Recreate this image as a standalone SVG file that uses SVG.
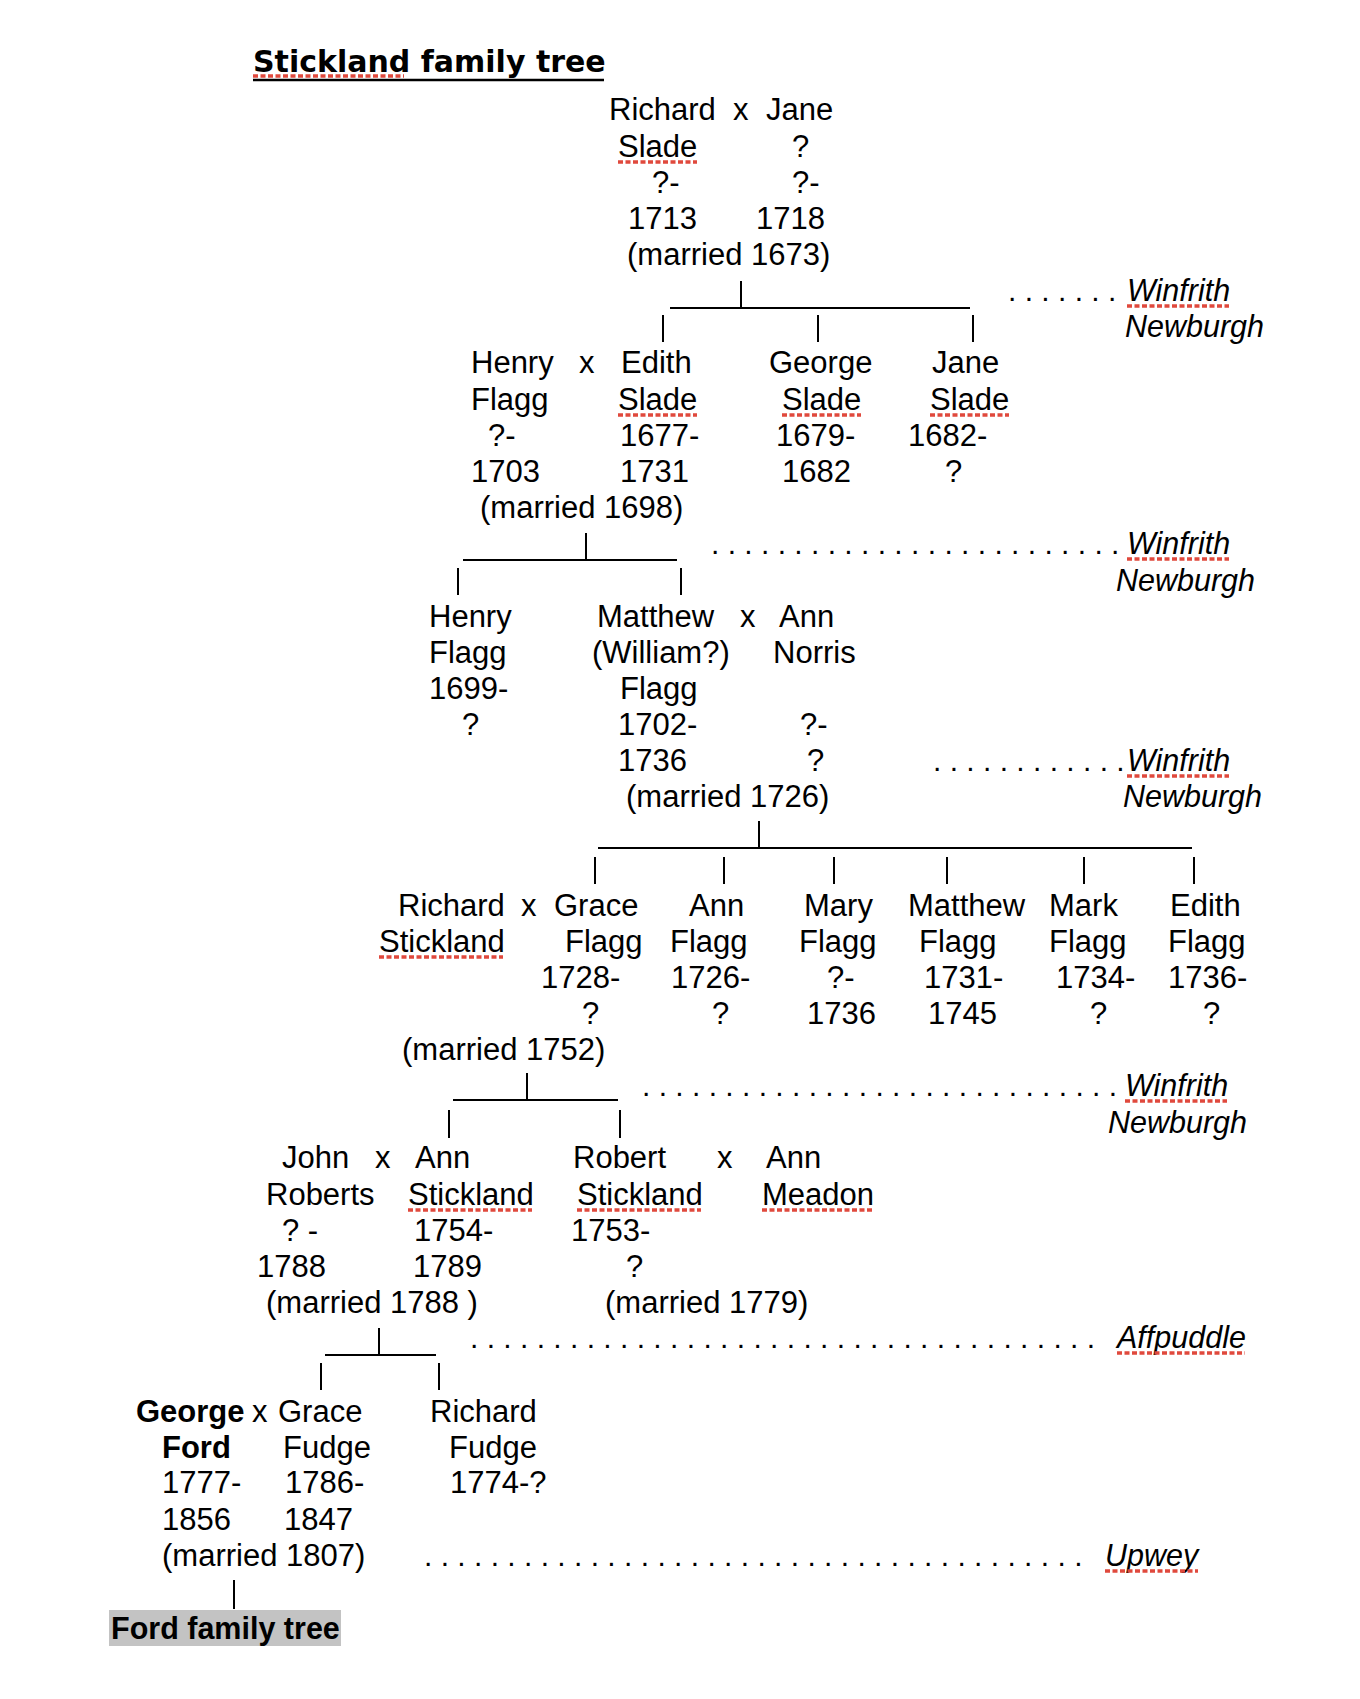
<svg xmlns="http://www.w3.org/2000/svg" width="1360" height="1699" viewBox="0 0 1360 1699">
<style>
text { font-family: "Liberation Sans", Arial, sans-serif; font-size: 31px; fill: #000; }
.b { font-weight: bold; }
.i { font-style: italic; font-size: 30.5px; }
.d { font-size: 30px; }
.f { font-size: 30.5px; }
.ttl { font-family: "DejaVu Sans", Verdana, sans-serif; font-weight: bold; font-size: 30px; }
.c { stroke: #000; stroke-width: 2; fill: none; }
.sp { stroke: #e0493d; stroke-width: 3.5; stroke-dasharray: 5 2.5; fill: none; }
.ul { stroke: #000; stroke-width: 2.5; }
</style>
<rect width="1360" height="1699" fill="#fff"/>

<g id="title">
  <text class="ttl" x="253" y="72">Stickland family tree</text>
  <line class="ul" x1="253" y1="80" x2="604" y2="80"/>
  <line class="sp" x1="253" y1="76" x2="404" y2="76"/>
</g>

<!-- Generation 1 -->
<g id="richard-slade">
  <text x="609" y="120">Richard</text>
  <text x="618" y="157">Slade</text>
  <line class="sp" x1="618" y1="162" x2="697" y2="162"/>
  <text x="652" y="193">?-</text>
  <text x="628" y="229">1713</text>
</g>
<g id="jane-unknown">
  <text x="766" y="120">Jane</text>
  <text x="792" y="157">?</text>
  <text x="792" y="193">?-</text>
  <text x="756" y="229">1718</text>
</g>
<g id="marriage-1673">
  <text x="733" y="120">x</text>
  <text x="627" y="265">(married 1673)</text>
</g>

<!-- Generation 2 -->
<g id="henry-flagg-sr">
  <text x="471" y="373">Henry</text>
  <text x="471" y="410">Flagg</text>
  <text x="488" y="446">?-</text>
  <text x="471" y="482">1703</text>
</g>
<g id="edith-slade">
  <text x="621" y="373">Edith</text>
  <text x="618" y="410">Slade</text>
  <line class="sp" x1="618" y1="415" x2="697" y2="415"/>
  <text x="620" y="446">1677-</text>
  <text x="620" y="482">1731</text>
</g>
<g id="marriage-1698">
  <text x="579" y="373">x</text>
  <text x="480" y="518">(married 1698)</text>
</g>
<g id="george-slade">
  <text x="769" y="373">George</text>
  <text x="782" y="410">Slade</text>
  <line class="sp" x1="782" y1="415" x2="861" y2="415"/>
  <text x="776" y="446">1679-</text>
  <text x="782" y="482">1682</text>
</g>
<g id="jane-slade">
  <text x="932" y="373">Jane</text>
  <text x="930" y="410">Slade</text>
  <line class="sp" x1="930" y1="415" x2="1009" y2="415"/>
  <text x="908" y="446">1682-</text>
  <text x="945" y="482">?</text>
</g>

<!-- Generation 3 -->
<g id="henry-flagg-jr">
  <text x="429" y="627">Henry</text>
  <text x="429" y="663">Flagg</text>
  <text x="429" y="699">1699-</text>
  <text x="462" y="735">?</text>
</g>
<g id="matthew-flagg">
  <text x="597" y="627">Matthew</text>
  <text x="592" y="663">(William?)</text>
  <text x="620" y="699">Flagg</text>
  <text x="618" y="735">1702-</text>
  <text x="618" y="771">1736</text>
</g>
<g id="ann-norris">
  <text x="779" y="627">Ann</text>
  <text x="773" y="663">Norris</text>
  <text x="800" y="735">?-</text>
  <text x="807" y="771">?</text>
</g>
<g id="marriage-1726">
  <text x="740" y="627">x</text>
  <text x="626" y="807">(married 1726)</text>
</g>

<!-- Generation 4 -->
<g id="richard-stickland">
  <text x="398" y="916">Richard</text>
  <text x="379" y="952">Stickland</text>
  <line class="sp" x1="379" y1="957" x2="503" y2="957"/>
</g>
<g id="grace-flagg">
  <text x="554" y="916">Grace</text>
  <text x="565" y="952">Flagg</text>
  <text x="541" y="988">1728-</text>
  <text x="582" y="1024">?</text>
</g>
<g id="marriage-1752">
  <text x="521" y="916">x</text>
  <text x="402" y="1060">(married 1752)</text>
</g>
<g id="ann-flagg">
  <text x="689" y="916">Ann</text>
  <text x="670" y="952">Flagg</text>
  <text x="671" y="988">1726-</text>
  <text x="712" y="1024">?</text>
</g>
<g id="mary-flagg">
  <text x="804" y="916">Mary</text>
  <text x="799" y="952">Flagg</text>
  <text x="827" y="988">?-</text>
  <text x="807" y="1024">1736</text>
</g>
<g id="matthew-flagg-jr">
  <text x="908" y="916">Matthew</text>
  <text x="919" y="952">Flagg</text>
  <text x="924" y="988">1731-</text>
  <text x="928" y="1024">1745</text>
</g>
<g id="mark-flagg">
  <text x="1049" y="916">Mark</text>
  <text x="1049" y="952">Flagg</text>
  <text x="1056" y="988">1734-</text>
  <text x="1090" y="1024">?</text>
</g>
<g id="edith-flagg">
  <text x="1170" y="916">Edith</text>
  <text x="1168" y="952">Flagg</text>
  <text x="1168" y="988">1736-</text>
  <text x="1203" y="1024">?</text>
</g>

<!-- Generation 5 -->
<g id="john-roberts">
  <text x="282" y="1168">John</text>
  <text x="266" y="1205">Roberts</text>
  <text x="282" y="1241">? -</text>
  <text x="257" y="1277">1788</text>
</g>
<g id="ann-stickland">
  <text x="415" y="1168">Ann</text>
  <text x="408" y="1205">Stickland</text>
  <line class="sp" x1="408" y1="1210" x2="532" y2="1210"/>
  <text x="414" y="1241">1754-</text>
  <text x="413" y="1277">1789</text>
</g>
<g id="marriage-1788">
  <text x="375" y="1168">x</text>
  <text x="266" y="1313">(married 1788 )</text>
</g>
<g id="robert-stickland">
  <text x="573" y="1168">Robert</text>
  <text x="577" y="1205">Stickland</text>
  <line class="sp" x1="577" y1="1210" x2="701" y2="1210"/>
  <text x="571" y="1241">1753-</text>
  <text x="626" y="1277">?</text>
</g>
<g id="ann-meadon">
  <text x="766" y="1168">Ann</text>
  <text x="762" y="1205">Meadon</text>
  <line class="sp" x1="762" y1="1210" x2="873" y2="1210"/>
</g>
<g id="marriage-1779">
  <text x="717" y="1168">x</text>
  <text x="605" y="1313">(married 1779)</text>
</g>

<!-- Generation 6 -->
<g id="george-ford">
  <text class="b" x="136" y="1422">George</text>
  <text class="b" x="162" y="1458">Ford</text>
  <text x="162" y="1493">1777-</text>
  <text x="162" y="1530">1856</text>
</g>
<g id="grace-fudge">
  <text x="278" y="1422">Grace</text>
  <text x="283" y="1458">Fudge</text>
  <text x="285" y="1493">1786-</text>
  <text x="284" y="1530">1847</text>
</g>
<g id="marriage-1807">
  <text x="252" y="1422">x</text>
  <text x="162" y="1566">(married 1807)</text>
</g>
<g id="richard-fudge">
  <text x="430" y="1422">Richard</text>
  <text x="449" y="1458">Fudge</text>
  <text x="450" y="1493">1774-?</text>
</g>
<g id="ford-family-tree">
  <rect x="109" y="1610" width="232" height="36" fill="#c3c3c3"/>
  <text class="b f" x="111" y="1639">Ford family tree</text>
</g>

<!-- Place labels -->
<g id="places">
  <text class="d" x="1008" y="301">. . . . . . .</text>
  <text class="i" x="1127" y="301">Winfrith</text>
  <line class="sp" x1="1127" y1="306" x2="1229" y2="306"/>
  <text class="i" x="1125" y="337">Newburgh</text>

  <text class="d" x="711" y="554">. . . . . . . . . . . . . . . . . . . . . . . . .</text>
  <text class="i" x="1127" y="554">Winfrith</text>
  <line class="sp" x1="1127" y1="559" x2="1229" y2="559"/>
  <text class="i" x="1116" y="591">Newburgh</text>

  <text class="d" x="933" y="771">. . . . . . . . . . . .</text>
  <text class="i" x="1127" y="771">Winfrith</text>
  <line class="sp" x1="1127" y1="776" x2="1229" y2="776"/>
  <text class="i" x="1123" y="807">Newburgh</text>

  <text class="d" x="642" y="1096">. . . . . . . . . . . . . . . . . . . . . . . . . . . . .</text>
  <text class="i" x="1125" y="1096">Winfrith</text>
  <line class="sp" x1="1125" y1="1101" x2="1227" y2="1101"/>
  <text class="i" x="1108" y="1133">Newburgh</text>

  <text class="d" x="470" y="1348">. . . . . . . . . . . . . . . . . . . . . . . . . . . . . . . . . . . . . .</text>
  <text class="i" x="1117" y="1348">Affpuddle</text>
  <line class="sp" x1="1117" y1="1353" x2="1245" y2="1353"/>

  <text class="d" x="424" y="1566">. . . . . . . . . . . . . . . . . . . . . . . . . . . . . . . . . . . . . . . .</text>
  <text class="i" x="1105" y="1566">Upwey</text>
  <line class="sp" x1="1105" y1="1571" x2="1198" y2="1571"/>
</g>

<g id="connectors">
  <line class="c" x1="670" y1="308" x2="970" y2="308"/>
  <line class="c" x1="741" y1="281" x2="741" y2="308"/>
  <line class="c" x1="663" y1="315" x2="663" y2="342"/>
  <line class="c" x1="818" y1="315" x2="818" y2="342"/>
  <line class="c" x1="973" y1="315" x2="973" y2="342"/>

  <line class="c" x1="463" y1="560" x2="677" y2="560"/>
  <line class="c" x1="586" y1="533" x2="586" y2="560"/>
  <line class="c" x1="458" y1="568" x2="458" y2="595"/>
  <line class="c" x1="681" y1="568" x2="681" y2="595"/>

  <line class="c" x1="598" y1="848" x2="1192" y2="848"/>
  <line class="c" x1="759" y1="821" x2="759" y2="848"/>
  <line class="c" x1="595" y1="857" x2="595" y2="884"/>
  <line class="c" x1="724" y1="857" x2="724" y2="884"/>
  <line class="c" x1="834" y1="857" x2="834" y2="884"/>
  <line class="c" x1="947" y1="857" x2="947" y2="884"/>
  <line class="c" x1="1084" y1="857" x2="1084" y2="884"/>
  <line class="c" x1="1194" y1="857" x2="1194" y2="884"/>

  <line class="c" x1="453" y1="1100" x2="618" y2="1100"/>
  <line class="c" x1="527" y1="1073" x2="527" y2="1100"/>
  <line class="c" x1="449" y1="1110" x2="449" y2="1138"/>
  <line class="c" x1="620" y1="1110" x2="620" y2="1138"/>

  <line class="c" x1="325" y1="1355" x2="436" y2="1355"/>
  <line class="c" x1="379" y1="1328" x2="379" y2="1355"/>
  <line class="c" x1="321" y1="1363" x2="321" y2="1390"/>
  <line class="c" x1="439" y1="1363" x2="439" y2="1390"/>

  <line class="c" x1="234" y1="1580" x2="234" y2="1609"/>
</g>
</svg>
